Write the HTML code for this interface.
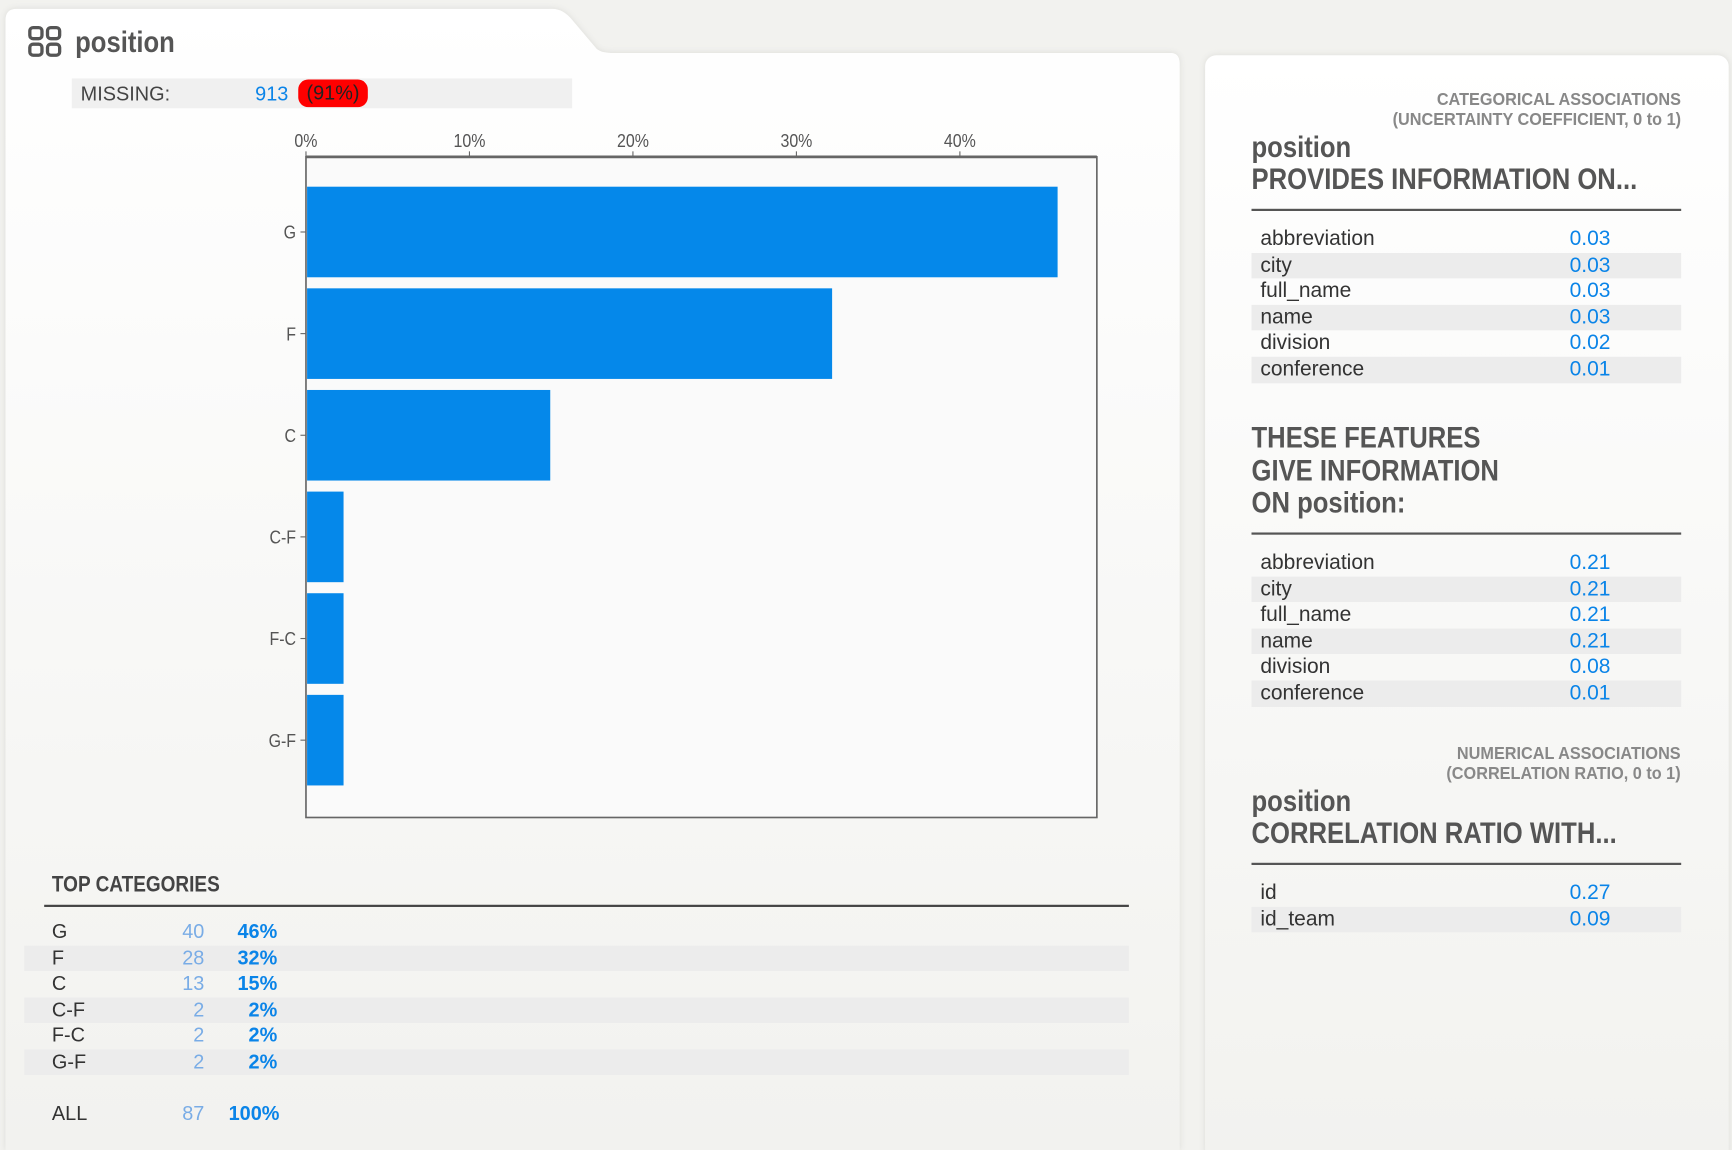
<!DOCTYPE html>
<html><head><meta charset="utf-8"><style>
html,body{margin:0;padding:0;width:1732px;height:1150px;overflow:hidden;background:#f2f2ef}
#root{position:absolute;left:0;top:0;width:1568px;height:1041px;transform:scale(1.10459,1.10471);transform-origin:0 0;font-family:"Liberation Sans",sans-serif;color:#333}
.abs{position:absolute;white-space:nowrap}
.cond{font-family:"Liberation Sans Narrow","Liberation Sans",sans-serif;font-weight:bold;color:#555;transform:scaleX(0.86);transform-origin:0 0}
.condr{transform-origin:100% 0;transform:scaleX(0.92)}
.row{position:absolute;height:23.5px;font-size:19px;line-height:23.5px;color:#333}
.row span{position:absolute}
.blue{color:#0a84e8}
.lblue{color:#79ace6}
.hline{position:absolute;height:2px;background:#555}
</style></head><body>
<div id="root">
<svg class="abs" style="left:0;top:0" width="1568" height="1041">
<defs><linearGradient id="g1" x1="0" y1="0" x2="0" y2="1"><stop offset="0" stop-color="#ffffff"/><stop offset="1" stop-color="#f2f2ef"/></linearGradient>
<filter id="sh" x="-5%" y="-5%" width="110%" height="110%"><feGaussianBlur stdDeviation="3"/></filter></defs>
<path d="M5,18 Q5,8 15,8 L500,8 Q510,8 518,18 L540,44 Q544,48 556,48 L1060,48 Q1068,48 1068,58 L1068,1041 L5,1041 Z" fill="#dcdcd8" filter="url(#sh)"/>
<path d="M5,18 Q5,8 15,8 L500,8 Q510,8 518,18 L540,44 Q544,48 556,48 L1060,48 Q1068,48 1068,58 L1068,1041 L5,1041 Z" fill="url(#g1)"/>
<rect x="1091" y="50" width="474" height="1000" rx="10" fill="#dcdcd8" filter="url(#sh)"/>
<rect x="1091" y="50" width="474" height="1000" rx="10" fill="url(#g1)"/>
</svg>

<svg class="abs" style="top:23px;left:25px" width="32" height="30">
<g fill="none" stroke="#555" stroke-width="3"><rect x="2" y="2" width="11" height="10" rx="3"/><rect x="18" y="2" width="11" height="10" rx="3"/><rect x="2" y="17" width="11" height="10" rx="3"/><rect x="18" y="17" width="11" height="10" rx="3"/></g></svg>
<div class="abs cond" style="left:68px;top:23px;font-size:27px">position</div>

<div class="abs" style="left:65px;top:71px;width:453px;height:27px;background:#f0f0f0"></div>
<div class="abs" style="left:73px;top:75px;font-size:18px;color:#444">MISSING:</div>
<div class="abs blue" style="left:231px;top:75px;font-size:18px">913</div>
<div class="abs" style="left:270px;top:72px;width:63px;height:25px;border-radius:9px;background:#f00;color:#222;font-size:18px;line-height:25px;text-align:center">(91%)</div>

<svg id="chart" class="abs" style="left:0;top:0" width="1068" height="760"></svg>

<div class="abs cond" style="left:47px;top:790px;font-size:20px;color:#444">TOP CATEGORIES</div>
<div class="hline" style="left:40px;top:819px;width:982px;height:1.5px;background:#444"></div>
<div id="topcats"></div>

<div id="right">
<div class="abs cond condr" style="right:46px;top:82px;font-size:16px;color:#888;text-align:right;line-height:18px">CATEGORICAL ASSOCIATIONS<br>(UNCERTAINTY COEFFICIENT, 0 to 1)</div>
<div class="abs cond" style="left:1133px;top:119px;font-size:27px;line-height:29px">position<br>PROVIDES INFORMATION ON...</div>
<div class="hline" style="left:1133px;top:189px;width:389px"></div>
<div class="abs cond" style="left:1133px;top:382px;font-size:27px;line-height:29.5px">THESE FEATURES<br>GIVE INFORMATION<br>ON position:</div>
<div class="hline" style="left:1133px;top:482px;width:389px"></div>
<div class="abs cond condr" style="right:46px;top:674px;font-size:16px;color:#888;text-align:right;line-height:18px">NUMERICAL ASSOCIATIONS<br>(CORRELATION RATIO, 0 to 1)</div>
<div class="abs cond" style="left:1133px;top:711px;font-size:27px;line-height:29px">position<br>CORRELATION RATIO WITH...</div>
<div class="hline" style="left:1133px;top:781px;width:389px"></div>
</div>
</div>
<script>
const categories=["G","F","C","C-F","F-C","G-F"];
const counts=[40,28,13,2,2,2];
const total=87;
const xTicks=[0,10,20,30,40];
const xTickLabels=["0%","10%","20%","30%","40%"];
const assocNames=["abbreviation","city","full_name","name","division","conference"];
const providesVals=["0.03","0.03","0.03","0.03","0.02","0.01"];
const givesVals=["0.21","0.21","0.21","0.21","0.08","0.01"];
const numNames=["id","id_team"];
const numVals=["0.27","0.09"];

const NS="http://www.w3.org/2000/svg";
const svg=document.getElementById('chart');
const L=277,R=993,T=142,B=740;
const xScale=p=>L+p*14.8;
const step=92,first=210,bh=82;
const yScale=i=>first+i*step;
function mk(tag,attrs,parent){const e=document.createElementNS(NS,tag);for(const k in attrs)e.setAttribute(k,attrs[k]);(parent||svg).appendChild(e);return e;}
const bg=mk('rect',{x:L,y:T,width:R-L,height:B-T,fill:'#fafafa',stroke:'#666','stroke-width':1.5});


categories.forEach((c,i)=>{
  const pct=counts[i]/total*100;
  const r=mk('rect',{x:L+1,y:yScale(i)-bh/2,width:xScale(pct)-L-1,height:bh,fill:'#0588ea'});
  
  
  mk('line',{x1:L-5,x2:L,y1:yScale(i),y2:yScale(i),stroke:'#666','stroke-width':1});
  const t=mk('text',{x:L-9,y:yScale(i)+6,'text-anchor':'end','font-size':17,fill:'#555','font-family':'Liberation Sans, sans-serif',transform:'translate('+(L-9)+',0) scale(0.85,1) translate('+(-(L-9))+',0)'});
  t.textContent=c;
  
  
});
xTicks.forEach((v,i)=>{
  mk('line',{x1:xScale(v),x2:xScale(v),y1:T-5,y2:T,stroke:'#666','stroke-width':1});
  const t=mk('text',{x:xScale(v),y:T-9,'text-anchor':'middle','font-size':17,fill:'#555','font-family':'Liberation Sans, sans-serif',transform:'translate('+xScale(v)+',0) scale(0.85,1) translate('+(-xScale(v))+',0)'});
  t.textContent=xTickLabels[i];
  
  
});
mk('line',{x1:L,x2:R,y1:T,y2:T,stroke:'#666','stroke-width':2.5});

const root=document.getElementById('root');
function row(parent,top,left,width,stripe,cells,name){
  const d=document.createElement('div');
  d.className='row';
  d.style.top=top+'px';d.style.left=left+'px';d.style.width=width+'px';
  if(stripe)d.style.background='#ececec';
  
  
  cells.forEach(c=>{const s=document.createElement('span');s.textContent=c.t;if(c.cls)s.className=c.cls;
    if(c.right!=null){s.style.right=c.right+'px';}else s.style.left=c.l+'px';
    if(c.b)s.style.fontWeight='bold';s.style.fontSize=(c.fs||19)+'px';d.appendChild(s);});
  root.appendChild(d);
}
categories.forEach((c,i)=>{
  const pct=Math.round(counts[i]/total*100);
  row(root,832+i*23.5,22,1000,i%2==1,[{t:c,l:25,fs:18},{t:String(counts[i]),cls:'lblue',right:1000-163,fs:18},{t:pct+'%',cls:'blue',right:1000-229,b:1,fs:18}],'top-category-row');
});
row(root,997,22,1000,false,[{t:'ALL',l:25,fs:18},{t:String(total),cls:'lblue',right:1000-163,fs:18},{t:'100%',cls:'blue',right:1000-231,b:1,fs:18}],'top-category-total');
assocNames.forEach((n,i)=>{
  row(root,205+i*23.6,1133,389,i%2==1,[{t:n,l:8},{t:providesVals[i],cls:'blue',l:288}],'provides-info-row');
  row(root,498+i*23.6,1133,389,i%2==1,[{t:n,l:8},{t:givesVals[i],cls:'blue',l:288}],'gives-info-row');
});
numNames.forEach((n,i)=>{
  row(root,797+i*23.6,1133,389,i%2==1,[{t:n,l:8},{t:numVals[i],cls:'blue',l:288}],'correlation-row');
});
</script>
</body></html>
